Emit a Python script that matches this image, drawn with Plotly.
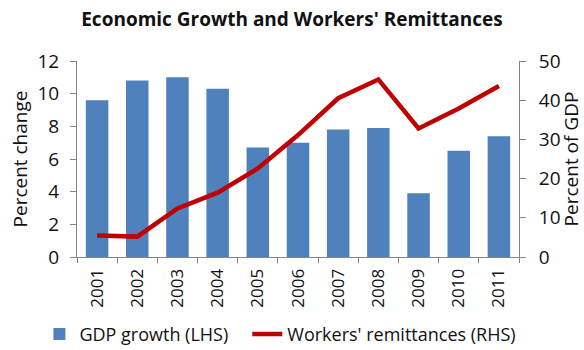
import plotly.graph_objects as go

years = ["2001", "2002", "2003", "2004", "2005", "2006", "2007", "2008", "2009", "2010", "2011"]
gdp_growth = [9.6, 10.8, 11.0, 10.3, 6.7, 7.0, 7.8, 7.9, 3.9, 6.5, 7.4]
remittances = [5.5, 5.2, 12.4, 16.4, 22.6, 31.1, 40.5, 45.3, 32.8, 37.9, 43.6]

FONT = "Open Sans"
AXIS_GREY = "#868686"
TEXT = "#111111"
GAP = "\u00a0" * 3  # extra room between the two legend entries

fig = go.Figure()
fig.add_trace(go.Bar(
    x=years, y=gdp_growth, name="GDP growth (LHS)" + GAP,
    marker=dict(color="#4F81BD", line=dict(width=0)),
    yaxis="y",
))
fig.add_trace(go.Scatter(
    x=years, y=remittances, name="Workers' remittances (RHS)",
    mode="lines", line=dict(color="#C00000", width=4.5),
    yaxis="y2",
))

fig.update_layout(
    width=584, height=350,
    margin=dict(l=77, r=65, t=61, b=93, autoexpand=False),
    paper_bgcolor="white", plot_bgcolor="white",
    font=dict(family=FONT, size=18, color=TEXT),
    title=dict(
        text="<b>Economic Growth and Workers' Remittances</b>",
        x=0.5, xanchor="center", y=0.945, yanchor="middle",
        font=dict(family=FONT, size=19, color=TEXT),
    ),
    bargap=0.44,
    showlegend=True,
    legend=dict(
        orientation="h", x=-0.085, xanchor="left", y=-0.395, yanchor="middle",
        font=dict(family=FONT, size=18, color=TEXT), itemwidth=30,
        bgcolor="rgba(0,0,0,0)", tracegroupgap=0,
    ),
    xaxis=dict(
        type="category", tickangle=-90, automargin=False,
        showline=True, linecolor=AXIS_GREY, linewidth=1,
        ticks="outside", ticklen=5, tickcolor=AXIS_GREY, tickson="boundaries",
        ticklabelstandoff=4,
        showgrid=False, tickfont=dict(size=17),
    ),
    yaxis=dict(
        range=[0, 12], dtick=2, automargin=False,
        showline=True, linecolor=AXIS_GREY, linewidth=1,
        ticks="outside", ticklen=6, tickcolor=AXIS_GREY,
        ticklabelstandoff=7,
        showgrid=False, zeroline=False,
        title=dict(text="Percent change", font=dict(size=19), standoff=4),
        tickfont=dict(size=19),
    ),
    yaxis2=dict(
        range=[0, 50], dtick=10, overlaying="y", side="right", automargin=False,
        showline=True, linecolor=AXIS_GREY, linewidth=1,
        ticks="outside", ticklen=6, tickcolor=AXIS_GREY,
        ticklabelstandoff=9,
        showgrid=False, zeroline=False,
        title=dict(text="Percent of GDP", font=dict(size=19), standoff=6),
        tickfont=dict(size=19),
    ),
)

fig.write_html("out.html")
